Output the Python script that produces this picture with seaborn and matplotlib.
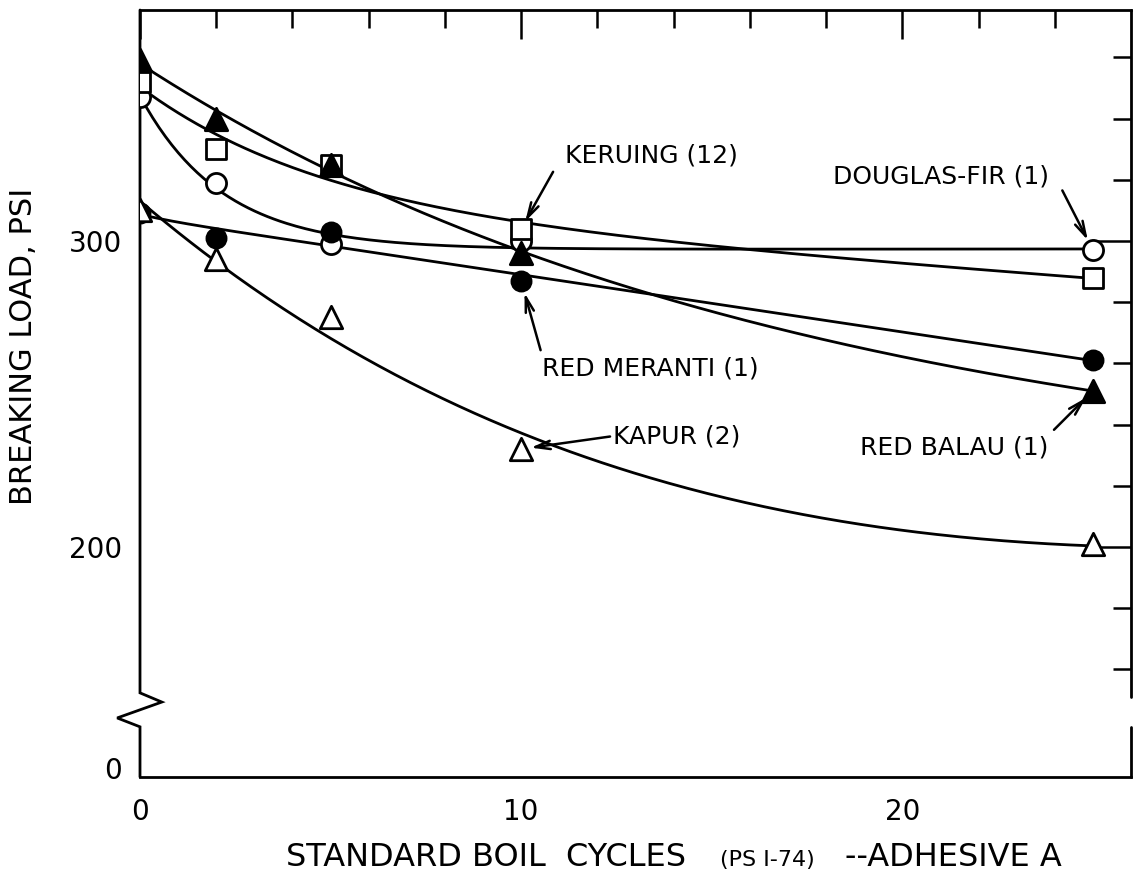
import numpy as np
import pandas as pd
import matplotlib
matplotlib.use('Agg')
import matplotlib.pyplot as plt
import matplotlib.transforms as mtransforms
import seaborn as sns


# boil cycles tested and breaking load (psi)
cycles = [0, 2, 5, 10, 25]
douglas_fir = [347, 319, 299, 300, 297]
keruing = [352, 330, 325, 304, 288]
red_meranti = [309, 301, 303, 287, 261]
red_balau = [359, 340, 325, 296, 251]
kapur = [310, 294, 275, 232, 201]

species = ['DOUGLAS-FIR (1)', 'KERUING (12)', 'RED MERANTI (1)', 'RED BALAU (1)', 'KAPUR (2)']
loads = [douglas_fir, keruing, red_meranti, red_balau, kapur]

# marker, face colour, size
MARKERS = {
    'DOUGLAS-FIR (1)': ('o', 'white', 210),
    'KERUING (12)': ('s', 'white', 190),
    'RED MERANTI (1)': ('o', 'black', 190),
    'RED BALAU (1)': ('^', 'black', 260),
    'KAPUR (2)': ('^', 'white', 260),
}

# point index, label text offset and arrow tail offset from that marker (points), arrow shrink
LABELS = {
    'KERUING (12)': (3, (94, 53), (23, 41), 6),
    'DOUGLAS-FIR (1)': (4, (-109, 53), (-22, 43), 8),
    'RED MERANTI (1)': (3, (93, -63), (14, -50), 9),
    'KAPUR (2)': (3, (112, 9), (64, 9), 7),
    'RED BALAU (1)': (4, (-100, -41), (-28, -28), 7),
}


def smooth_fit(x, y, grid):
    # c + a*exp(-b*x) + d*x, b found by a simple grid search
    x = np.asarray(x, float)
    y = np.asarray(y, float)
    best = None
    for b in np.linspace(0.05, 1.2, 231):
        A = np.column_stack([np.ones_like(x), np.exp(-b * x), x])
        coef = np.linalg.lstsq(A, y, rcond=None)[0]
        err = np.sum((A @ coef - y) ** 2)
        if best is None or err < best[0]:
            best = (err, b, coef)
    _, b, coef = best
    return coef[0] + coef[1] * np.exp(-b * grid) + coef[2] * grid


def main():
    sns.set_theme(style='white')
    plt.rcParams['font.family'] = ['DejaVu Sans']

    points = pd.DataFrame({
        'species': np.repeat(species, len(cycles)),
        'cycles': cycles * len(species),
        'load': np.concatenate(loads),
    })

    grid = np.linspace(min(cycles), max(cycles), 300)
    curves = pd.concat([
        pd.DataFrame({'species': sp, 'cycles': grid, 'load': smooth_fit(cycles, ld, grid)})
        for sp, ld in zip(species, loads)
    ], ignore_index=True)

    fig = plt.figure(figsize=(11.33, 8.75), dpi=100)
    ax = fig.add_axes([140 / 1133, 1 - 777 / 875, 991 / 1133, 767 / 875])

    ymin, ymax = 124.8, 375.5
    ax.set_xlim(0, 26)
    ax.set_ylim(ymin, ymax)

    sns.lineplot(data=curves, x='cycles', y='load', units='species', estimator=None,
                 color='black', linewidth=2.0, ax=ax, zorder=2)

    for sp in species:
        m, fc, s = MARKERS[sp]
        sub = points[points['species'] == sp]
        sns.scatterplot(x=sub['cycles'], y=sub['load'], marker=m, s=s, color=fc,
                        edgecolor='black', linewidth=2.0, ax=ax, zorder=3)

    # labels with arrows
    for sp, (idx, txt_off, tail_off, shrink) in LABELS.items():
        pt = points[points['species'] == sp].iloc[idx]
        xy = (pt['cycles'], pt['load'])
        ax.annotate(sp, xy=xy, xytext=txt_off, textcoords='offset points',
                    ha='center', va='center', fontsize=18, color='black')
        ax.annotate('', xy=xy, xytext=tail_off, textcoords='offset points',
                    arrowprops=dict(arrowstyle='->,head_length=0.9,head_width=0.25',
                                    color='black', lw=1.8, shrinkA=0, shrinkB=shrink))

    # ticks
    ax.set_xticks([0, 10, 20], labels=['0', '10', '20'])
    ax.set_xticks([2, 4, 6, 8, 12, 14, 16, 18, 22, 24], minor=True)
    ax.set_yticks([127.8, 200, 300], labels=['0', '200', '300'])
    ax.set_yticks([160, 180, 220, 240, 260, 280, 320, 340, 360], minor=True)
    ax.tick_params(which='both', direction='in', top=True, right=True,
                   width=1.8, color='black', labelsize=20, labelcolor='black')
    ax.tick_params(axis='y', which='major', length=26, pad=13)
    ax.tick_params(axis='x', which='major', length=21, pad=15)
    ax.tick_params(which='minor', length=13)
    zero_tick = ax.yaxis.get_major_ticks()[0]
    zero_tick.tick1line.set_visible(False)
    zero_tick.tick2line.set_visible(False)

    # frame with axis break
    for s in ('left', 'right'):
        ax.spines[s].set_visible(False)
    for s in ('top', 'bottom'):
        ax.spines[s].set_linewidth(2.0)
        ax.spines[s].set_color('black')
    trans = mtransforms.blended_transform_factory(ax.transAxes, ax.transData)
    ax.plot([0, 0, 0.022, -0.023, 0, 0], [ymax, 152.3, 149.3, 144.1, 141.2, ymin],
            transform=trans, clip_on=False, color='black', lw=2.0, solid_joinstyle='miter')
    ax.plot([1, 1], [ymax, 151.0], transform=trans, clip_on=False, color='black', lw=2.0)
    ax.plot([1, 1], [141.2, ymin], transform=trans, clip_on=False, color='black', lw=2.0)

    # axis titles
    ax.set_xlabel('')
    ax.set_ylabel('BREAKING LOAD, PSI', fontsize=22, color='black')
    ax.yaxis.set_label_coords(-0.103, 0.561)
    base_y = 1 - 866 / 875
    fig.text(486 / 1133, base_y, 'STANDARD BOIL  CYCLES', fontsize=23,
             ha='center', va='baseline', color='black')
    fig.text(767 / 1133, base_y, '(PS I-74)', fontsize=16,
             ha='center', va='baseline', color='black')
    fig.text(953 / 1133, base_y, '--ADHESIVE A', fontsize=23,
             ha='center', va='baseline', color='black')

    fig.savefig('out.png', dpi=100)
    plt.close(fig)


if __name__ == '__main__':
    main()
